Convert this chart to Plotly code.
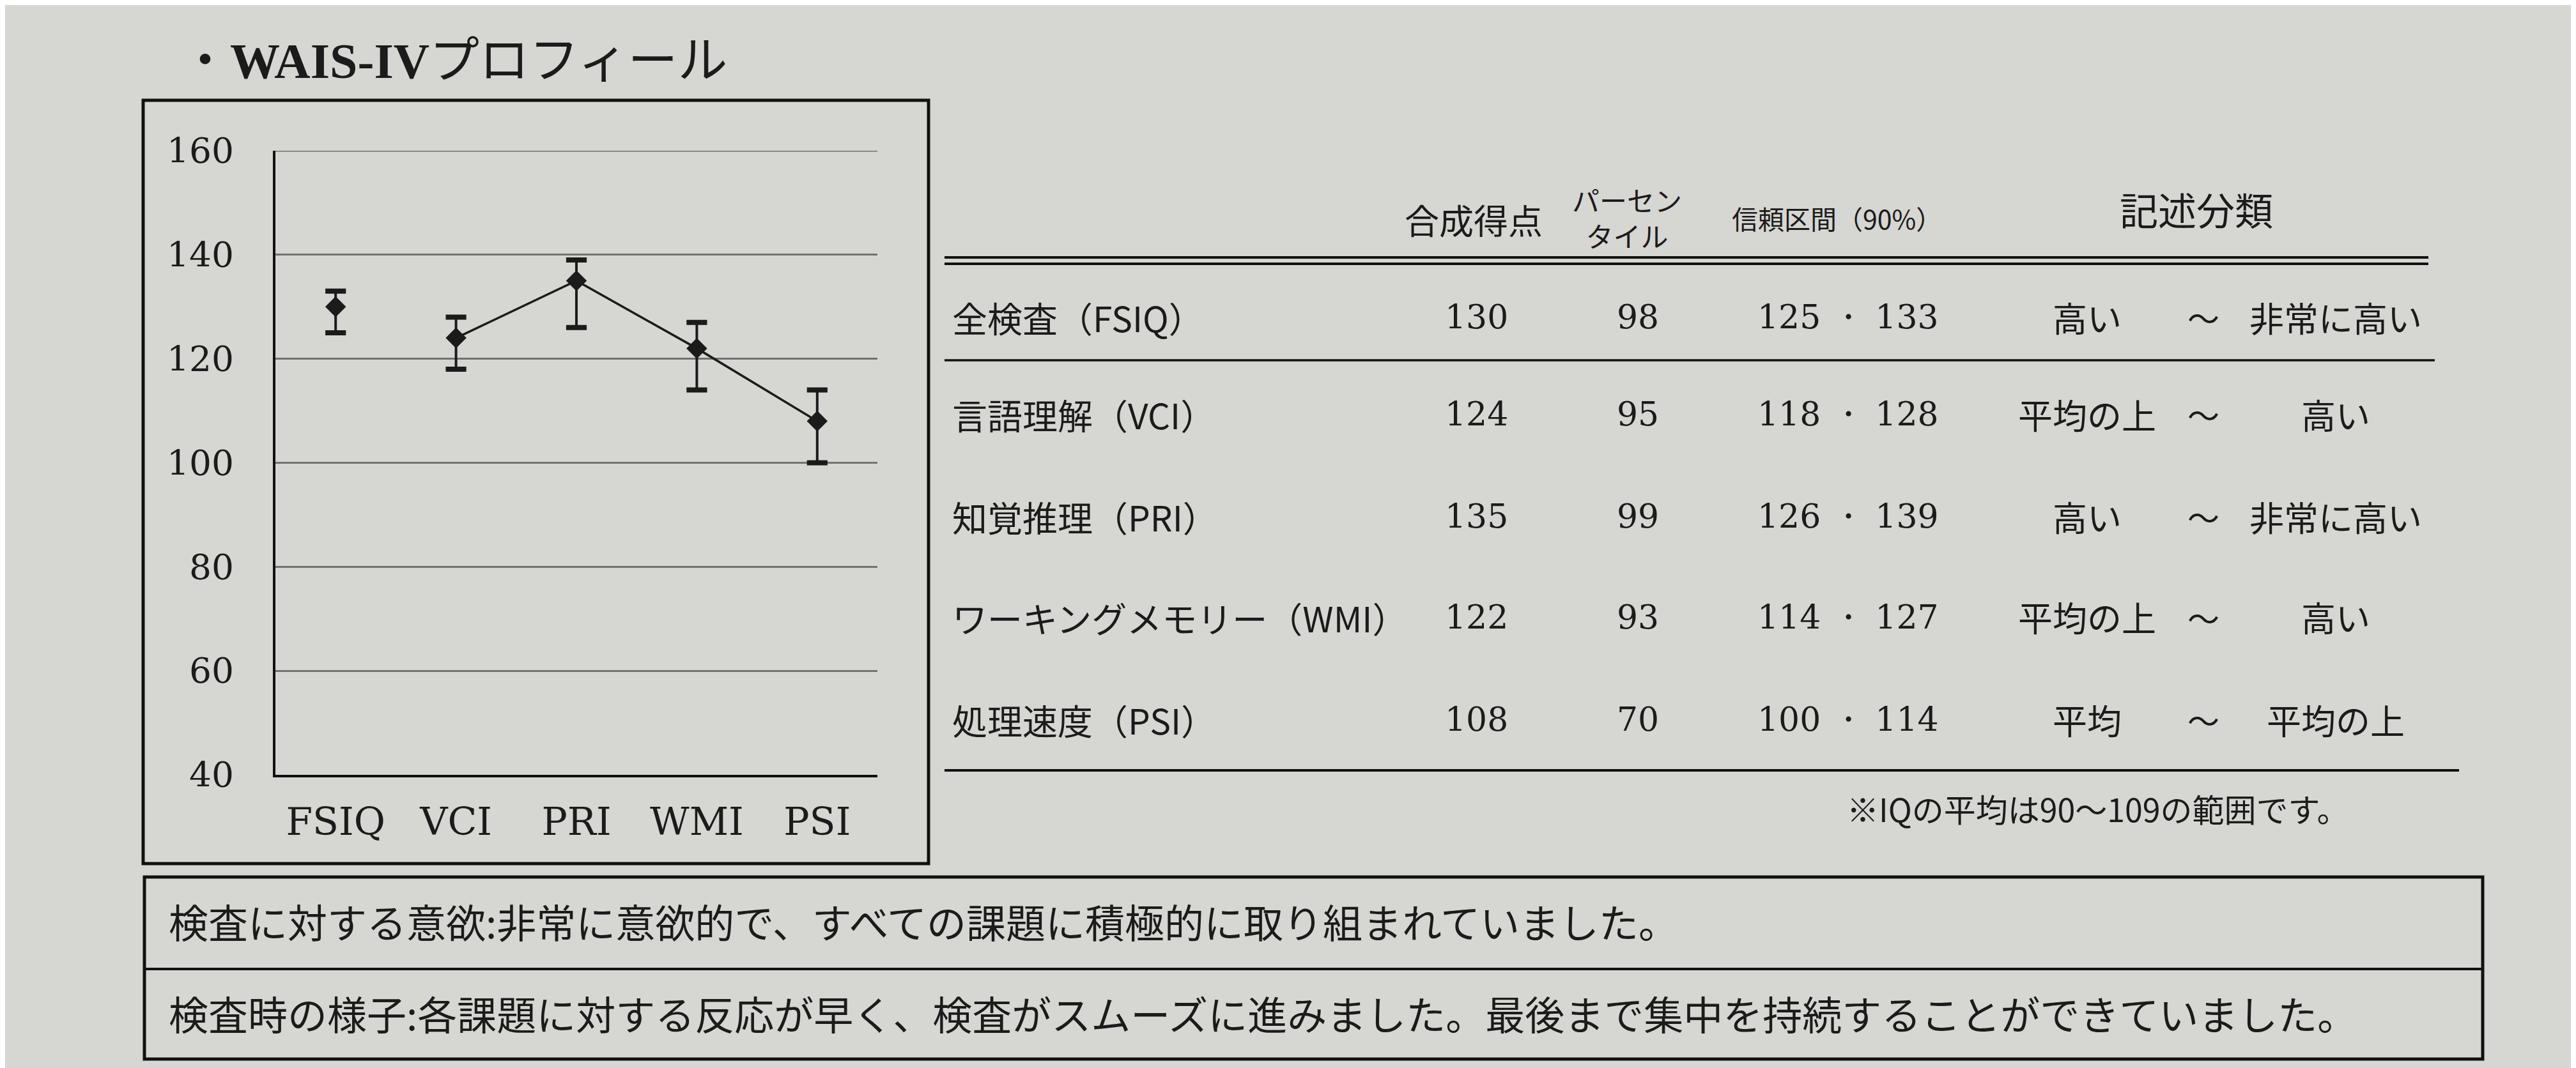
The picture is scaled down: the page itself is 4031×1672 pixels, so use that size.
import plotly.graph_objects as go

# ---------------- data ----------------
indices = ["FSIQ", "VCI", "PRI", "WMI", "PSI"]
scores = [130, 124, 135, 122, 108]
ci_low = [125, 118, 126, 114, 100]
ci_high = [133, 128, 139, 127, 114]
percentiles = [98, 95, 99, 93, 70]
row_labels = ["全検査（FSIQ）", "言語理解（VCI）", "知覚推理（PRI）",
              "ワーキングメモリー（WMI）", "処理速度（PSI）"]
desc_from = ["高い", "平均の上", "高い", "平均の上", "平均"]
desc_to = ["非常に高い", "高い", "非常に高い", "高い", "平均の上"]
y_ticks = [40, 60, 80, 100, 120, 140, 160]
headers = ["合成得点", "パーセン<br>タイル", "信頼区間（90%）", "記述分類"]
title_text = "WAIS-IV"
title_kana = "プロフィール"
footnote = "※IQの平均は90～109の範囲です。"
comments = ["検査に対する意欲:非常に意欲的で、すべての課題に積極的に取り組まれていました。",
            "検査時の様子:各課題に対する反応が早く、検査がスムーズに進みました。最後まで集中を持続することができていました。"]

W, H = 4031, 1672
OFF = 8  # default page margin of the html body
BG = "#d6d6d2"
INK = "#1b1b1b"
GRID = "#727272"
JP = "Noto Sans CJK JP"
SERIF = "DejaVu Serif"


def px(x):
    return (x - OFF) / W


def py(y):
    return 1 - (y - OFF) / H


fig = go.Figure()

# FSIQ (not connected)
fig.add_trace(go.Scatter(
    x=indices[:1], y=scores[:1], mode="markers",
    marker=dict(symbol="diamond", size=25, color=INK),
    error_y=dict(type="data", symmetric=False,
                 array=[ci_high[0] - scores[0]],
                 arrayminus=[scores[0] - ci_low[0]],
                 color=INK, thickness=4, width=0),
    showlegend=False, hoverinfo="skip"))

# Index scores (connected)
fig.add_trace(go.Scatter(
    x=indices[1:], y=scores[1:], mode="lines+markers",
    line=dict(color=INK, width=3.5),
    marker=dict(symbol="diamond", size=25, color=INK),
    error_y=dict(type="data", symmetric=False,
                 array=[h - s for h, s in zip(ci_high[1:], scores[1:])],
                 arrayminus=[s - l for s, l in zip(scores[1:], ci_low[1:])],
                 color=INK, thickness=4, width=0),
    showlegend=False, hoverinfo="skip"))

# thick caps at the confidence-interval ends
fig.add_trace(go.Scatter(
    x=indices + indices, y=ci_low + ci_high, mode="markers",
    marker=dict(symbol="line-ew", size=23, color=INK,
                line=dict(color=INK, width=8)),
    showlegend=False, hoverinfo="skip"))

fig.update_xaxes(
    domain=[px(431), px(1373)], type="category", categoryorder="array",
    categoryarray=indices, range=[-0.5, 4.5], automargin=False,
    showgrid=False, zeroline=False, showline=True, linecolor="#111", linewidth=4,
    ticks="", tickfont=dict(family=SERIF, size=60, color=INK), ticklabelstandoff=18)
fig.update_yaxes(
    domain=[py(1213), py(236)], range=[y_ticks[0], y_ticks[-1]], tickvals=y_ticks,
    automargin=False,
    showgrid=True, gridcolor=GRID, gridwidth=3, zeroline=False,
    showline=True, linecolor="#111", linewidth=4, ticks="",
    tickfont=dict(family=SERIF, size=55, color=INK), ticklabelstandoff=50)

shapes = []
# top gridline (at the end of the y range)
shapes.append(dict(type="line", xref="x domain", yref="y", x0=0, x1=1,
                   y0=y_ticks[-1], y1=y_ticks[-1], line=dict(color=GRID, width=3),
                   layer="below"))
# chart frame
shapes.append(dict(type="rect", xref="paper", yref="paper",
                   x0=px(224), x1=px(1453), y0=py(1352), y1=py(157),
                   line=dict(color="#111", width=5)))
# table rules
for y, x1, wdt in [(403, 3800, 4), (413, 3800, 4), (564, 3810, 3.5), (1206, 3848, 4)]:
    shapes.append(dict(type="line", xref="paper", yref="paper",
                       x0=px(1478), x1=px(x1), y0=py(y), y1=py(y),
                       line=dict(color="#111", width=wdt)))
# comment boxes
shapes.append(dict(type="rect", xref="paper", yref="paper",
                   x0=px(226), x1=px(3885), y0=py(1658), y1=py(1373),
                   line=dict(color="#111", width=5)))
shapes.append(dict(type="line", xref="paper", yref="paper",
                   x0=px(226), x1=px(3885), y0=py(1517), y1=py(1517),
                   line=dict(color="#111", width=4)))

ann = []


def text(x, y, s, size, family=JP, xanchor="center", color=INK):
    ann.append(dict(x=px(x), y=py(y), xref="paper", yref="paper", text=s,
                    showarrow=False, xanchor=xanchor, yanchor="middle",
                    font=dict(family=family, size=size, color=color)))


# title
text(280, 88,
     "・<span style='font-family:Liberation Serif'><b>" + title_text + "</b></span>" + title_kana,
     78, xanchor="left")

# headers
text(2306, 343, headers[0], 54)
text(2546, 340, headers[1], 43)
text(2874, 341, headers[2], 41)
text(3437, 327, headers[3], 60)

row_y = [496, 648, 808, 966, 1126]
for i in range(len(indices)):
    yy = row_y[i]
    text(1488, yy, row_labels[i], 55, xanchor="left")
    text(2310, yy, str(scores[i]), 52, family=SERIF)
    text(2563, yy, str(percentiles[i]), 52, family=SERIF)
    text(2892, yy, f"{ci_low[i]} ・ {ci_high[i]}", 52, family=SERIF)
    text(3266, yy, desc_from[i], 54)
    text(3448, yy, "～", 50)
    text(3655, yy, desc_to[i], 54)

text(2888, 1265, footnote, 50, xanchor="left")

text(262, 1442, comments[0], 62, xanchor="left")
text(262, 1586, comments[1], 62, xanchor="left")

fig.update_layout(
    width=W, height=H, margin=dict(l=0, r=0, t=0, b=0, autoexpand=False),
    paper_bgcolor=BG, plot_bgcolor=BG,
    shapes=shapes, annotations=ann, showlegend=False)

fig.write_html("out.html")
